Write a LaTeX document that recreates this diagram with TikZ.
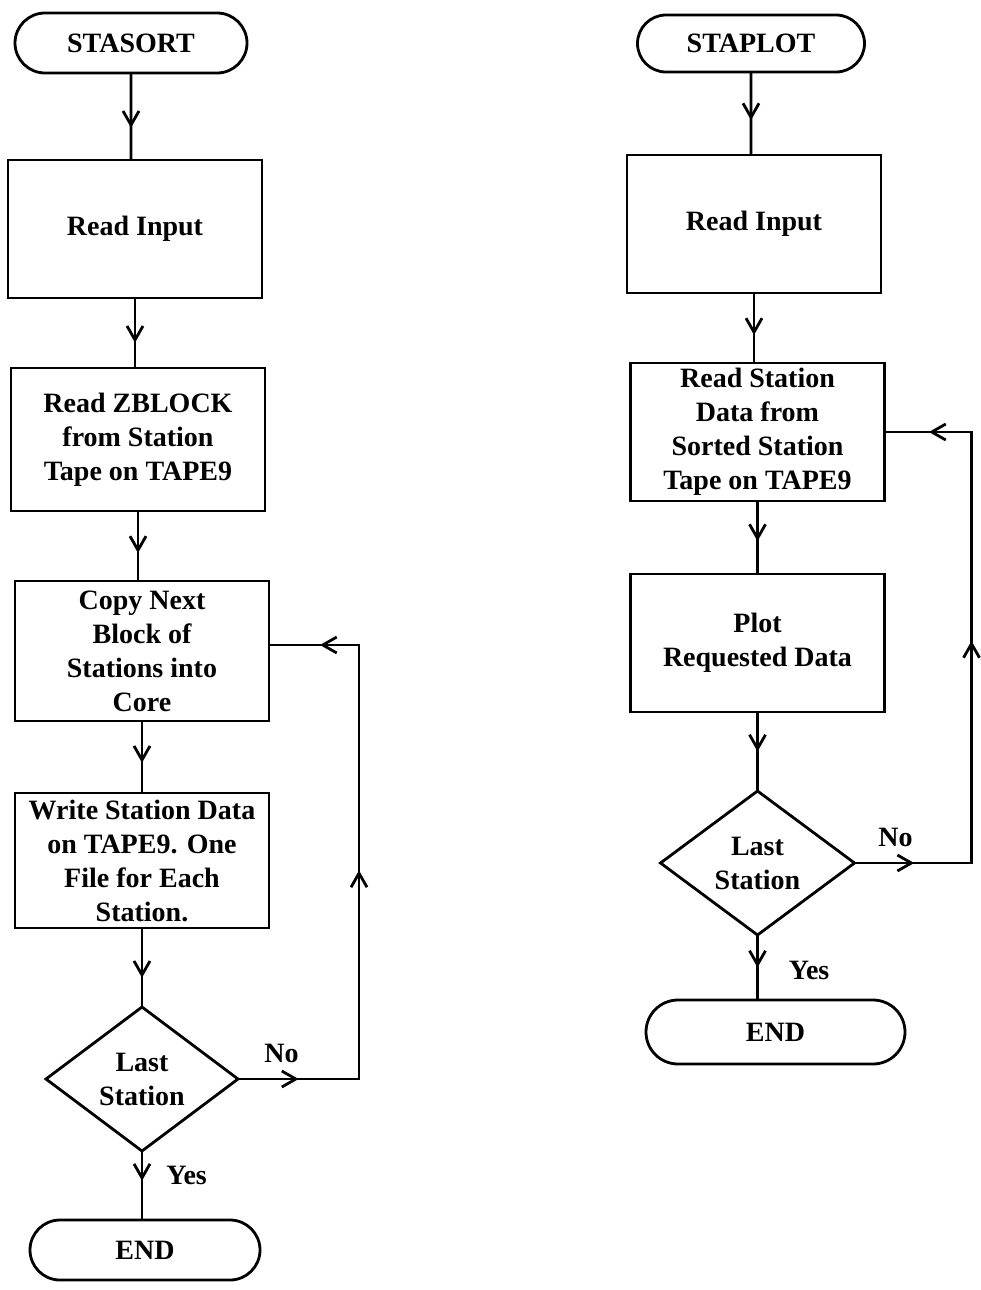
\documentclass[tikz,border=0pt]{standalone}
\usepackage{fontspec}
\setmainfont{Liberation Serif}
\usetikzlibrary{arrows.meta,positioning,shapes.geometric,shapes.misc,calc,decorations.markings}
\tikzset{
  termbox/.style={rounded rectangle, draw, line width=1.4pt, outer sep=0pt, minimum width=120pt, minimum height=30pt, inner sep=2pt},
  procbox/.style={draw, line width=1.4pt, outer sep=0pt, align=center, minimum width=127pt, minimum height=69pt, inner sep=2pt},
  testbox/.style={diamond, draw, line width=1.4pt, outer sep=0pt, align=center, aspect=1.33, minimum width=96pt, minimum height=72pt, inner sep=0pt},
  barb/.tip={Straight Barb[length=7pt, width=8pt]},
  flow/.style={line width=1.4pt, postaction={decorate}, decoration={markings, mark=at position #1 with {\arrow{barb}}}},
  flow/.default=0.6,
  loopflow/.style n args={3}{line width=1.4pt, postaction={decorate}, decoration={markings,
      mark=at position #1 with {\arrow{barb}},
      mark=at position #2 with {\arrow{barb}},
      mark=at position #3 with {\arrow{barb}}}},
  lbl/.style={inner sep=1pt}
}
\begin{document}
\begin{tikzpicture}[node distance=35pt, font=\bfseries\fontsize{14}{17}\selectfont]
  \useasboundingbox (0,0) rectangle (490pt,-645pt);
  % STASORT
  \node[termbox] (stasort) at (65.5pt,-21.5pt) {STASORT};
  \node[procbox, below=43.5pt of stasort, xshift=2pt] (readA) {Read Input};
  \node[procbox, below=of readA, xshift=1.5pt, minimum height=71.5pt] (zblock) {Read ZBLOCK\\from Station\\Tape on TAPE9};
  \node[procbox, below=of zblock, xshift=2pt, minimum height=70pt] (copy) {Copy Next\\Block of\\Stations into\\Core};
  \node[procbox, below=36pt of copy, minimum height=67.5pt] (write) {Write Station Data\\on TAPE9.  One\\File for Each\\Station.};
  \node[testbox, below=39.5pt of write] (lastA) {Last\\Station};
  \node[termbox, below=34.5pt of lastA, xshift=1.5pt, minimum width=119pt] (endA) {END};
  \coordinate[right=60.5pt of lastA.east] (loopA);

  % STAPLOT
  \node[termbox, minimum width=117.5pt, minimum height=28.5pt] (staplot) at (375.5pt,-21.75pt) {STAPLOT};
  \node[procbox, below=41.5pt of staplot, xshift=1.5pt] (readB) {Read Input};
  \node[procbox, below=of readB, xshift=1.75pt] (stationB) {Read Station\\Data from\\Sorted Station\\Tape on TAPE9};
  \node[procbox, below=36.5pt of stationB] (plot) {Plot\\Requested Data};
  \node[testbox, below=39.5pt of plot, minimum width=97pt] (lastB) {Last\\Station};
  \node[termbox, below=32.5pt of lastB, xshift=9pt, minimum width=133.5pt, minimum height=32pt] (endB) {END};
  \coordinate[right=58.5pt of lastB.east] (loopB);

  \draw[flow=0.63] (stasort) -- (stasort |- readA.north);
  \draw[flow=0.64] (readA) -- (readA |- zblock.north);
  \draw[flow] (zblock) -- (zblock |- copy.north);
  \draw[flow=0.58] (copy) -- (copy |- write.north);
  \draw[flow=0.63] (write) -- (lastA);
  \draw[flow=0.43] (lastA) -- (lastA |- endA.north) node[lbl, pos=0.35, right=10.5pt] {Yes};
  \draw[loopflow={0.094}{0.511}{0.921}] (lastA) -- (loopA) node[lbl, pos=0.36, above=6.5pt] {No} |- ([yshift=3pt]copy.east);

  \draw[flow=0.58] (staplot) -- (staplot |- readB.north);
  \draw[flow=0.6] (readB) -- (readB |- stationB.north);
  \draw[flow=0.55] (stationB) -- (plot);
  \draw[flow=0.5] (plot) -- (lastB);
  \draw[flow=0.5] (lastB) -- (lastB |- endB.north) node[lbl, pos=0.54, right=14pt] {Yes};
  \draw[loopflow={0.094}{0.534}{0.93}] (lastB) -- (loopB) node[lbl, pos=0.35, above=6.5pt] {No} |- (stationB.east);
\end{tikzpicture}
\end{document}
